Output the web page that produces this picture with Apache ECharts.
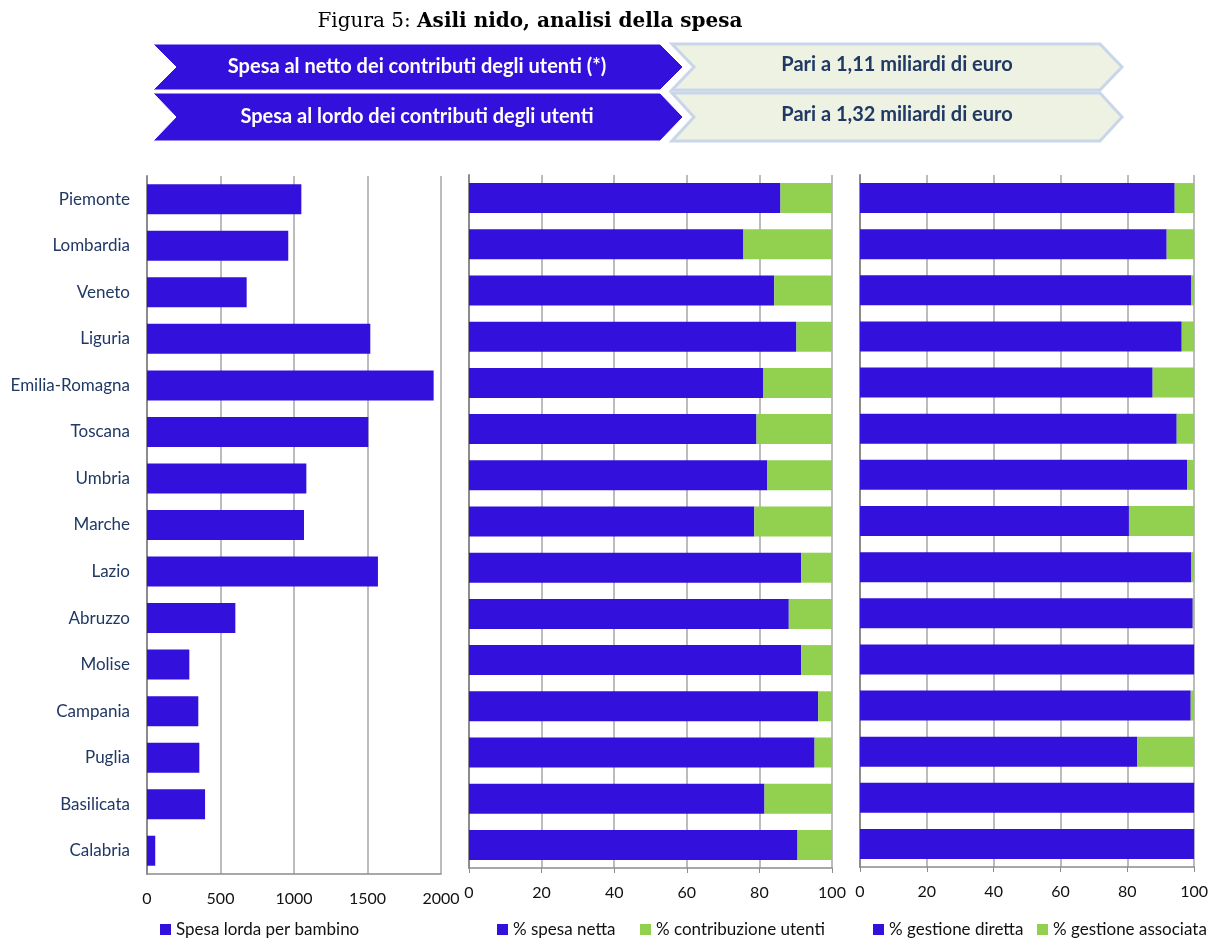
<!DOCTYPE html>
<html>
<head>
<meta charset="utf-8">
<script src="https://cdn.jsdelivr.net/npm/echarts@6/dist/echarts.min.js"></script>
<style>
  html, body { margin: 0; padding: 0; background: #fff; }
  #chart { width: 1211px; height: 938px; }
</style>
</head>
<body>
<div id="chart"></div>
<script>
// regioni (dall'alto in basso)
var regioni = ['Piemonte', 'Lombardia', 'Veneto', 'Liguria', 'Emilia-Romagna', 'Toscana', 'Umbria',
  'Marche', 'Lazio', 'Abruzzo', 'Molise', 'Campania', 'Puglia', 'Basilicata', 'Calabria'];

// spesa lorda per bambino (euro)
var spesaLorda = [1050, 961, 678, 1519, 1950, 1505, 1084, 1068, 1571, 601, 288, 349, 356, 395, 56];

// composizione spesa (%)
var spesaNetta = [85.8, 75.6, 84.1, 90.2, 81.1, 79.2, 82.2, 78.6, 91.5, 88.1, 91.5, 96.2, 95.2, 81.4, 90.5];
var contribUtenti = [14.2, 24.4, 15.9, 9.8, 18.9, 20.8, 17.8, 21.4, 8.5, 11.9, 8.5, 3.8, 4.8, 18.6, 9.5];

// forma di gestione (%)
var gestDiretta = [94.2, 91.8, 99.2, 96.3, 87.6, 94.8, 97.9, 80.5, 99.2, 99.6, 100, 99.0, 83.0, 100, 100];
var gestAssociata = [5.8, 8.2, 0.8, 3.7, 12.4, 5.2, 2.1, 19.5, 0.8, 0.4, 0, 1.0, 17.0, 0, 0];

var righeTesta = [
  ['Spesa al netto dei contributi degli utenti (*)', 'Pari a 1,11 miliardi di euro'],
  ['Spesa al lordo dei contributi degli utenti', 'Pari a 1,32 miliardi di euro']
];

var BLU = '#3410DD';
var VERDE = '#92D050';
var FONT = 'Lato';

var chart = echarts.init(document.getElementById('chart'));

function valueAxis(grid, max, interval, tick) {
  return {
    type: 'value', gridIndex: grid, min: 0, max: max, interval: interval,
    axisLine: { show: true, lineStyle: { color: '#8C8C8C', width: 1.5 } },
    axisTick: { show: tick, length: 5, lineStyle: { color: '#8C8C8C' } },
    axisLabel: { color: '#111', fontSize: 16, fontFamily: FONT, margin: 17,
      formatter: function (v) { return String(v); } },
    splitLine: { show: true, lineStyle: { color: '#A6A6A6', width: 1.5 } }
  };
}

function catAxis(grid, labels) {
  return {
    type: 'category', gridIndex: grid, data: regioni, inverse: true,
    axisLine: { show: true, lineStyle: { color: '#8C8C8C', width: 2 } },
    axisTick: { show: false },
    axisLabel: { show: labels, color: '#1F3864', fontSize: 17, fontFamily: FONT, margin: 17 }
  };
}

// titolo e intestazione a frecce
var graphic = [{
  type: 'text', x: 530, y: 22,
  style: {
    text: '{r|Figura 5: }{b|Asili nido, analisi della spesa}',
    align: 'center', verticalAlign: 'middle',
    rich: {
      r: { fontFamily: 'DejaVu Serif', fontSize: 20, fill: '#000' },
      b: { fontFamily: 'DejaVu Serif', fontSize: 20, fontWeight: 'bold', fill: '#000' }
    }
  }
}];
righeTesta.forEach(function (r, i) {
  var y0 = i === 0 ? 44 : 93, y1 = i === 0 ? 90 : 141, ym = (y0 + y1) / 2;
  graphic.push({
    type: 'polygon',
    shape: { points: [[153, y0], [660, y0], [683, ym], [660, y1], [153, y1], [176, ym]] },
    style: { fill: BLU, stroke: '#FFFFFF', lineWidth: 1 }
  });
  graphic.push({
    type: 'polygon',
    shape: { points: [[672, y0], [1100, y0], [1122, ym], [1100, y1], [672, y1], [694, ym]] },
    style: { fill: '#EEF2E2', stroke: '#C9D6EA', lineWidth: 3 }
  });
  graphic.push({
    type: 'text', x: 417, y: ym,
    style: { text: r[0], fill: '#FFFFFF', font: 'bold 20px ' + FONT, align: 'center', verticalAlign: 'middle' }
  });
  graphic.push({
    type: 'text', x: 897, y: ym - 2,
    style: { text: r[1], fill: '#1F3864', font: 'bold 20px ' + FONT, align: 'center', verticalAlign: 'middle' }
  });
});

var legendText = { color: '#111', fontSize: 17, fontFamily: FONT };
function legend(name, left) {
  return {
    data: [name], left: left, top: 921, itemWidth: 11, itemHeight: 11, itemGap: 4,
    icon: 'rect', textStyle: legendText, padding: 0
  };
}

var option = {
  animation: false,
  backgroundColor: '#fff',
  graphic: graphic,
  grid: [
    { left: 147, width: 294, top: 176, height: 698 },
    { left: 469, width: 363, top: 175, height: 693 },
    { left: 860, width: 337, top: 175, height: 692 }
  ],
  xAxis: [
    valueAxis(0, 2000, 500, false),
    valueAxis(1, 100, 20, true),
    valueAxis(2, 100, 20, true)
  ],
  yAxis: [
    catAxis(0, true),
    catAxis(1, false),
    catAxis(2, false)
  ],
  legend: [
    legend('Spesa lorda per bambino', 160),
    legend('% spesa netta', 497),
    legend('% contribuzione utenti', 640),
    legend('% gestione diretta', 873),
    legend('% gestione associata', 1037)
  ],
  series: [
    { name: 'Spesa lorda per bambino', type: 'bar', xAxisIndex: 0, yAxisIndex: 0,
      data: spesaLorda, barWidth: 30, itemStyle: { color: BLU } },
    { name: '% spesa netta', type: 'bar', stack: 'comp', xAxisIndex: 1, yAxisIndex: 1,
      data: spesaNetta, barWidth: 30, itemStyle: { color: BLU } },
    { name: '% contribuzione utenti', type: 'bar', stack: 'comp', xAxisIndex: 1, yAxisIndex: 1,
      data: contribUtenti, barWidth: 30, itemStyle: { color: VERDE } },
    { name: '% gestione diretta', type: 'bar', stack: 'gest', xAxisIndex: 2, yAxisIndex: 2,
      data: gestDiretta, barWidth: 30, itemStyle: { color: BLU } },
    { name: '% gestione associata', type: 'bar', stack: 'gest', xAxisIndex: 2, yAxisIndex: 2,
      data: gestAssociata, barWidth: 30, itemStyle: { color: VERDE } }
  ]
};

chart.setOption(option);
</script>
</body>
</html>
